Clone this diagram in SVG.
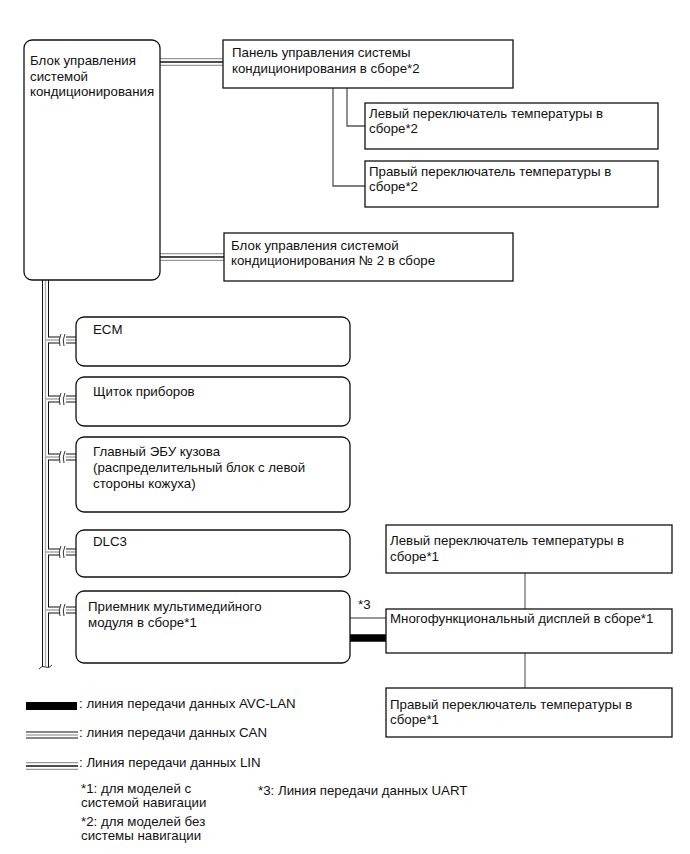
<svg xmlns="http://www.w3.org/2000/svg" width="690" height="854" viewBox="0 0 690 854">
<style>
text{font-family:"Liberation Sans",Arial,sans-serif;font-size:13.3px;fill:#111}
.box{fill:#fff;stroke:#111;stroke-width:1.3}
.thin{fill:none;stroke:#555;stroke-width:1.3}
.canO{fill:none;stroke:#111;stroke-width:7}
.canI{fill:none;stroke:#fff;stroke-width:5}
.canC{fill:none;stroke:#aaa;stroke-width:1.3}
.linO{fill:none;stroke:#999;stroke-width:8}
.linI{fill:none;stroke:#fff;stroke-width:5.5}
.linC{fill:none;stroke:#111;stroke-width:1.4}
.brk{fill:none;stroke:#333;stroke-width:1}
</style>
<rect width="690" height="854" fill="#fff"/>
<g id="connectors">
  <path class="linO" d="M160 62H223"/><path class="linI" d="M160 62H223"/><path class="linC" d="M160 62H223"/>
  <path class="linO" d="M160 257H224"/><path class="linI" d="M160 257H224"/><path class="linC" d="M160 257H224"/>
  <path class="thin" d="M347 88V126H365"/>
  <path class="thin" d="M333 88V186H365"/>
  <g id="bus">
    <path class="canO" d="M45.5 280V667"/>
    <path class="canO" d="M45.5 340H60M66 340H76M45.5 399H60M66 399H76M45.5 457H60M66 457H76M45.5 552H60M66 552H76M45.5 610H60M66 610H76"/>
    <path class="canI" d="M45.5 280V667"/>
    <path class="canI" d="M45.5 340H60M66 340H76M45.5 399H60M66 399H76M45.5 457H60M66 457H76M45.5 552H60M66 552H76M45.5 610H60M66 610H76"/>
    <path class="canC" d="M45.5 280V667"/>
    <path class="canC" d="M46 340H60M66 340H76M46 399H60M66 399H76M46 457H60M66 457H76M46 552H60M66 552H76M46 610H60M66 610H76"/>
    <path class="brk" d="M61 334Q58 340 60 346M65 334Q62 340 64 346M61 393Q58 399 60 405M65 393Q62 399 64 405M61 451Q58 457 60 463M65 451Q62 457 64 463M61 546Q58 552 60 558M65 546Q62 552 64 558M61 604Q58 610 60 616M65 604Q62 610 64 616"/>
    <path class="brk" d="M39 669Q42 665 45.5 667Q49 669 52 665"/>
  </g>
  <path d="M350 618H386" fill="none" stroke="#333" stroke-width="1.2"/>
  <path d="M350 638H386" fill="none" stroke="#000" stroke-width="7.5"/>
  <text x="358" y="609">*3</text>
  <path d="M525 573V609M525 653V688" fill="none" stroke="#666" stroke-width="1.2"/>
</g>
<g id="main">
  <rect class="box" x="24" y="40" width="136" height="240" rx="8"/>
  <text x="30" y="65">Блок управления</text>
  <text x="30" y="80.5">системой</text>
  <text x="30" y="96">кондиционирования</text>
</g>
<g id="panel">
  <rect class="box" x="223" y="40" width="290" height="48"/>
  <text x="232" y="57">Панель управления системы</text>
  <text x="232" y="72.5">кондиционирования в сборе*2</text>
</g>
<g id="left2">
  <rect class="box" x="365" y="103" width="293" height="46"/>
  <text x="369" y="118">Левый переключатель температуры в</text>
  <text x="369" y="133">сборе*2</text>
</g>
<g id="right2">
  <rect class="box" x="365" y="161" width="293" height="46"/>
  <text x="369" y="176">Правый переключатель температуры в</text>
  <text x="369" y="191">сборе*2</text>
</g>
<g id="block2">
  <rect class="box" x="224" y="233" width="289" height="48"/>
  <text x="231" y="250">Блок управления системой</text>
  <text x="231" y="265">кондиционирования № 2 в сборе</text>
</g>
<g id="ecm">
  <rect class="box" x="76" y="317" width="274" height="49" rx="8"/>
  <text x="93" y="334">ECM</text>
</g>
<g id="meter">
  <rect class="box" x="76" y="377" width="274" height="49" rx="8"/>
  <text x="93" y="396">Щиток приборов</text>
</g>
<g id="body">
  <rect class="box" x="76" y="437" width="274" height="75" rx="8"/>
  <text x="93" y="456">Главный ЭБУ кузова</text>
  <text x="93" y="472">(распределительный блок с левой</text>
  <text x="93" y="488">стороны кожуха)</text>
</g>
<g id="dlc3">
  <rect class="box" x="76" y="530" width="274" height="47" rx="8"/>
  <text x="93" y="546">DLC3</text>
</g>
<g id="receiver">
  <rect class="box" x="76" y="591" width="274" height="72" rx="8"/>
  <text x="88" y="611">Приемник мультимедийного</text>
  <text x="88" y="627">модуля в сборе*1</text>
</g>
<g id="left1">
  <rect class="box" x="386" y="525" width="286" height="48"/>
  <text x="390" y="545">Левый переключатель температуры в</text>
  <text x="390" y="561">сборе*1</text>
</g>
<g id="display">
  <rect class="box" x="386" y="609" width="286" height="44"/>
  <text x="390" y="623">Многофункциональный дисплей в сборе*1</text>
</g>
<g id="right1">
  <rect class="box" x="386" y="688" width="286" height="49"/>
  <text x="390" y="709">Правый переключатель температуры в</text>
  <text x="390" y="724">сборе*1</text>
</g>
<g id="legend">
  <rect x="26" y="702" width="51" height="8" fill="#000"/>
  <text x="79" y="708">: линия передачи данных AVC-LAN</text>
  <path class="canO" d="M26 735H78"/><path class="canI" d="M26 735H78"/><path class="canC" d="M26 735H78"/>
  <text x="79" y="737">: линия передачи данных CAN</text>
  <path class="linO" d="M26 766H78"/><path class="linI" d="M26 766H78"/><path class="linC" d="M26 766H78"/>
  <text x="79" y="767">: Линия передачи данных LIN</text>
  <text x="81" y="793">*1: для моделей с</text>
  <text x="81" y="807">системой навигации</text>
  <text x="81" y="826">*2: для моделей без</text>
  <text x="81" y="840">системы навигации</text>
  <text x="258" y="795">*3: Линия передачи данных UART</text>
</g>
</svg>
